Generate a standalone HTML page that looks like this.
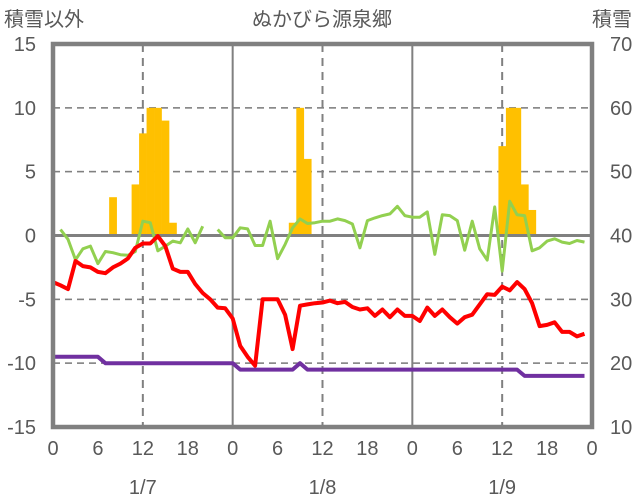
<!DOCTYPE html>
<html><head><meta charset="utf-8"><style>
body{margin:0;background:#fff;}
svg{display:block;font-family:"Liberation Sans","Noto Sans CJK JP",sans-serif;}
text{fill:#595959;font-size:20px;}
</style></head><body>
<svg id="chart" width="636" height="501" viewBox="0 0 636 501">
<text x="4" y="26" font-family="Noto Sans CJK JP, sans-serif">積雪以外</text>
<text x="322" y="26" text-anchor="middle" font-family="Noto Sans CJK JP, sans-serif">ぬかびら源泉郷</text>
<text x="632" y="26" text-anchor="end" font-family="Noto Sans CJK JP, sans-serif">積雪</text>
<g id="grid"></g><g id="bars"></g><g id="lines"></g><g id="frame"></g><g id="labels"></g>
</svg>
<script>
const hours = Array.from({length:72},(_,i)=>i);
const temperature = [-3.65,-3.9,-4.2,-2.0,-2.4,-2.5,-2.85,-2.95,-2.5,-2.2,-1.8,-0.96,-0.63,-0.63,-0.05,-0.83,-2.6,-2.85,-2.85,-3.8,-4.5,-5.0,-5.65,-5.7,
-6.5,-8.65,-9.5,-10.2,-5.0,-5.0,-5.0,-6.2,-8.9,-5.5,-5.4,-5.3,-5.25,-5.1,-5.3,-5.2,-5.6,-5.8,-5.7,-6.3,-5.8,-6.4,-5.8,-6.3,
-6.3,-6.7,-5.65,-6.3,-5.8,-6.4,-6.9,-6.4,-6.2,-5.4,-4.6,-4.65,-4.0,-4.3,-3.65,-4.2,-5.3,-7.1,-7.0,-6.8,-7.55,-7.55,-7.9,-7.7];
const greenSeries = [null,0.47,-0.3,-1.9,-1.04,-0.83,-2.2,-1.25,-1.35,-1.5,-1.55,-1.25,1.12,1.0,-1.2,-0.83,-0.44,-0.57,0.52,-0.57,0.73,null,0.47,-0.18,
-0.18,0.6,0.52,-0.78,-0.78,1.12,-1.82,-0.7,0.6,1.3,0.94,1.0,1.12,1.12,1.3,1.17,0.9,-0.96,1.17,1.38,1.56,1.69,2.29,1.56,
1.43,1.43,1.85,-1.48,1.62,1.56,1.17,-1.15,1.12,-1.04,-1.93,2.24,-2.79,2.68,1.62,1.56,-1.2,-0.96,-0.44,-0.26,-0.52,-0.63,-0.39,-0.52];
const snowDepth = [21,21,21,21,21,21,21,20,20,20,20,20,20,20,20,20,20,20,20,20,20,20,20,20,
20,19,19,19,19,19,19,19,19,20,19,19,19,19,19,19,19,19,19,19,19,19,19,19,
19,19,19,19,19,19,19,19,19,19,19,19,19,19,19,18,18,18,18,18,18,18,18,18];
const precipHours = [8,11,12,13,14,15,16,32,33,34,60,61,62,63,64];
const precipValues = [3,4,8,10,10,9,1,1,10,6,7,10,10,4,2];
const leftTicks = [15,10,5,0,-5,-10,-15];
const rightTicks = [70,60,50,40,30,20,10];
const hourTicks = ["0","6","12","18","0","6","12","18","0","6","12","18","0"];
const dayLabels = ["1/7","1/8","1/9"];

const X0=53,X1=592,Y0=44,Y1=427;
const xH=h=>X0+(X1-X0)*h/72;
const yL=v=>Y1-(v+15)/30*(Y1-Y0);
const yR=v=>Y1-(v-10)/60*(Y1-Y0);
const NS="http://www.w3.org/2000/svg";
function mk(tag,parent,attrs){const e=document.createElementNS(NS,tag);for(const k in attrs)e.setAttribute(k,attrs[k]);document.getElementById(parent).appendChild(e);return e;}

// grid
leftTicks.forEach(v=>{ if(v===15||v===-15||v===0) return;
  const l=mk('line','grid',{x1:X0,x2:X1,y1:yL(v),y2:yL(v),stroke:'#bfbfbf','stroke-width':1.5,'stroke-dasharray':'7,5'});
  
  
  // darker dash overlay
  const d=mk('line','grid',{x1:X0,x2:X1,y1:yL(v),y2:yL(v),stroke:'#808080','stroke-width':1.5,'stroke-dasharray':'7,5'});
  
  
});
[12,36,60].forEach(h=>{
  const l=mk('line','grid',{x1:xH(h),x2:xH(h),y1:Y0,y2:Y1,stroke:'#808080','stroke-width':2,'stroke-dasharray':'8,6'});
  
  
});
[24,48].forEach(h=>{
  const l=mk('line','grid',{x1:xH(h),x2:xH(h),y1:Y0,y2:Y1,stroke:'#808080','stroke-width':2});
  
  
});

// bars
precipHours.forEach((h,i)=>{
  const w=(X1-X0)/72;
  const b=mk('rect','bars',{x:xH(h)-w/2,y:yL(precipValues[i]),width:w+0.3,height:yL(0)-yL(precipValues[i]),fill:'#ffc000'});
  
  
});
const z=mk('line','grid',{x1:X0,x2:X1,y1:yL(0),y2:yL(0),stroke:'#808080','stroke-width':3});


document.getElementById('bars').after(z);

function path(arr,yf){let d='',pen=false;arr.forEach((v,i)=>{if(v===null){pen=false;return;}d+=(pen?'L':'M')+xH(i).toFixed(1)+','+yf(v).toFixed(1);pen=true;});return d;}
const p1=mk('path','lines',{d:path(snowDepth,yR),fill:'none',stroke:'#7030a0','stroke-width':4,'stroke-linejoin':'round'});


const p2=mk('path','lines',{d:path(greenSeries,yL),fill:'none',stroke:'#92d050','stroke-width':3,'stroke-linejoin':'round'});


const p3=mk('path','lines',{d:path(temperature,yL),fill:'none',stroke:'#ff0000','stroke-width':4,'stroke-linejoin':'round'});



const f=mk('rect','frame',{x:X0,y:Y0,width:X1-X0,height:Y1-Y0,fill:'none',stroke:'#808080','stroke-width':4.5});



leftTicks.forEach(v=>{
  const t=mk('text','labels',{x:36,y:yL(v)+7,'text-anchor':'end'});t.textContent=v;
  
  
});
rightTicks.forEach(v=>{
  const t=mk('text','labels',{x:610,y:yR(v)+7});t.textContent=v;
  
  
});
hourTicks.forEach((s,i)=>{
  const t=mk('text','labels',{x:xH(i*6),y:455,'text-anchor':'middle'});t.textContent=s;
  
  
});
dayLabels.forEach((s,i)=>{
  const t=mk('text','labels',{x:xH(12+24*i),y:494,'text-anchor':'middle'});t.textContent=s;
  
  
});
</script>
</body></html>
